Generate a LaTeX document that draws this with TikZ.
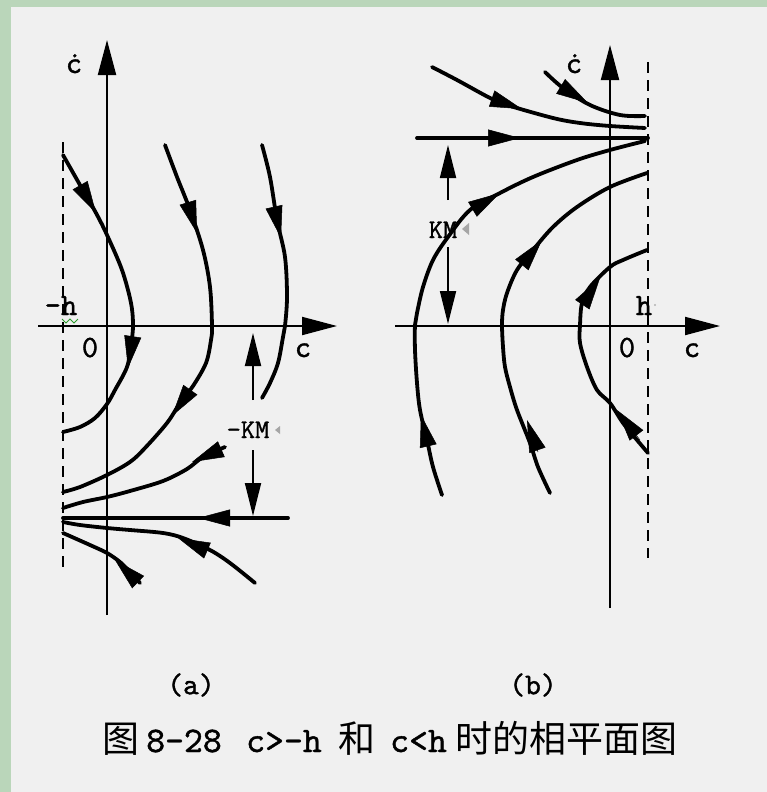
\documentclass[tikz,border=0pt]{standalone}
\usepackage{fontspec}
\newfontfamily\cjk{Noto Sans CJK SC}
\newfontfamily\mono{lmmono10-regular.otf}[FakeBold=1.2]
\usetikzlibrary{arrows.meta}
\definecolor{bggreen}{HTML}{BAD6BA}
\definecolor{panelgray}{HTML}{F0F0F0}
\definecolor{squig}{HTML}{2A9A2A}
\begin{document}
\begin{tikzpicture}[x=1pt,y=-1pt,
  curve/.style={line width=3.8pt, line join=round, line cap=round},
  axisline/.style={line width=2pt, -{Triangle[length=35pt,width=18pt]}},
  ah/.style={line width=0.5pt, -{Triangle[length=32pt,width=17pt]}},
  dimarrow/.style={line width=1.8pt, -{Triangle[length=33pt,width=16pt]}},
  dashline/.style={line width=2pt, dash pattern=on 11pt off 7pt},
  lbl/.style={font=\mono\fontsize{31}{31}\selectfont, inner sep=0pt},
  kmlbl/.style={font=\mono\fontsize{27}{27}\selectfont, inner sep=0pt},
  caplbl/.style={font=\mono\fontsize{30}{30}\selectfont, inner sep=0pt},
  capl/.style={font=\mono\fontsize{36}{36}\selectfont, inner sep=0pt, anchor=base west},
  capc/.style={font=\cjk\fontsize{37}{37}\selectfont, inner sep=0pt, anchor=base west}]
\useasboundingbox (0,0) rectangle (767,792);
\fill[bggreen] (0,0) rectangle (767,792);
\fill[panelgray] (11,7) rectangle (767,792);

% ---------------- panel (a) ----------------
\draw[dashline] (63,142) -- (63,568);
\draw[axisline] (107,615) -- (107,40);
\draw[axisline] (38,326) -- (337,326);

\draw[curve] plot[smooth, tension=0.55] coordinates {(63,155) (80,185) (96,213) (107,235) (122,270) (131,303) (133,326) (131,345) (127,367) (115,390) (107,404) (95,418) (80,427) (63,432)};
\draw[curve] plot[smooth, tension=0.55] coordinates {(165,145) (177,177) (190,210) (203,250) (210,287) (212,326) (211,340) (206,363) (193,386) (180,403) (167,423) (145,448) (130,462) (107,475) (80,487) (63,492)};
\draw[curve] plot[smooth, tension=0.55] coordinates {(262,145) (270,177) (277,220) (285,257) (287,297) (285,326) (283,337) (278,363) (270,383) (262,398)};
\draw[curve] plot[smooth, tension=0.55] coordinates {(225,447) (203,457) (187,469) (163,481) (130,491) (107,497) (83,502) (63,508)};
\draw[curve] (288,518) -- (63,518);
\draw[curve] plot[smooth, tension=0.55] coordinates {(255,583) (230,563) (210,550) (183,538) (163,533) (130,530) (107,528) (80,525) (63,522)};
\draw[curve] plot[smooth, tension=0.55] coordinates {(140,583) (130,572) (120,562) (107,553) (90,545) (63,533)};

\draw[ah] (80,185) -- (96,213);
\draw[ah] (133,335) -- (128,368);
\draw[ah] (188,203) -- (197,233);
\draw[ah] (193,386) -- (172,416);
\draw[ah] (274,207) -- (281,238);
\draw[ah] (224,448) -- (192,462);
\draw[ah] (232,518) -- (198,518);
\draw[ah] (213,553) -- (178,538);
\draw[ah] (138,582) -- (115,560);

\draw[dimarrow] (253,400) -- (253,333);
\draw[dimarrow] (253,450) -- (253,516);

\node[lbl, anchor=base] (adot) at (74,73) {ċ};
\node[lbl, anchor=base] (amh) at (61,315) {-h};
\node[lbl, anchor=base] (a0) at (90,357) {0};
\node[lbl, anchor=base] (ac) at (303,357) {c};
\node[kmlbl, anchor=base] (akm) at (248,438) {-KM};
\fill[gray!70] (280,426) -- (280,434) -- (275,430) -- cycle;
\draw[squig, line width=1pt] (62,319) -- (66,323) -- (70,319) -- (74,323) -- (78,319);

% ---------------- panel (b) ----------------
\draw[dashline] (648,62) -- (648,558);
\draw[axisline] (610,608) -- (610,45);
\draw[axisline] (395,326) -- (720,326);

\draw[curve] plot[smooth, tension=0.55] coordinates {(432,67) (457,80) (490,98) (507,105) (553,118) (580,123) (610,126) (645,128)};
\draw[curve] plot[smooth, tension=0.55] coordinates {(545,72) (563,88) (590,105) (620,115) (645,116)};
\draw[curve] (417,138) -- (648,138);
\draw[curve] plot[smooth, tension=0.55] coordinates {(442,495) (433,467) (427,440) (420,410) (417,383) (415,350) (415,325) (417,313) (423,287) (433,260) (448,237) (470,210) (500,193) (533,177) (577,160) (610,150) (645,141)};
\draw[curve] plot[smooth, tension=0.55] coordinates {(550,493) (538,467) (530,443) (517,410) (510,387) (505,367) (503,347) (502,325) (503,310) (507,293) (517,270) (533,250) (553,227) (577,207) (610,187) (647,173)};
\draw[curve] plot[smooth, tension=0.55] coordinates {(648,453) (637,440) (623,423) (610,403) (597,390) (587,367) (580,343) (580,325) (582,303) (590,287) (610,267) (623,260) (647,250)};

\draw[ah] (478,138) -- (520,138);
\draw[ah] (490,98) -- (522,109);
\draw[ah] (560,86) -- (588,103);
\draw[ah] (468,212) -- (500,193);
\draw[ah] (428,445) -- (421,415);
\draw[ah] (516,272) -- (542,240);
\draw[ah] (538,452) -- (527,420);
\draw[ah] (582,305) -- (600,278);
\draw[ah] (640,440) -- (617,410);

\draw[dimarrow] (448,200) -- (448,145);
\draw[dimarrow] (448,247) -- (448,324);

\node[lbl, anchor=base] (bdot) at (574,73) {ċ};
\node[lbl, anchor=base] (bh) at (644,315) {h};
\node[lbl, anchor=base] (b0) at (627,357) {0};
\node[lbl, anchor=base] (bc) at (692,357) {c};
\node[kmlbl, anchor=base] (bkm) at (443,238) {KM};
\fill[gray!70] (469,223) -- (469,235) -- (462,229) -- cycle;
\fill[gray!60] (655,305) circle (1.2pt);

% ---------------- captions ----------------
\node[caplbl] (capa) at (191,685) {(a)};
\node[caplbl] (capb) at (533,685) {(b)};
\node[capc] (t1) at (102,752) {图};
\node[capl] (t2) at (146,752) {8-28};
\node[capl] (t3) at (246,752) {c>-h};
\node[capc] (t4) at (338,752) {和};
\node[capl] (t5) at (390,752) {c<h};
\node[capc] (t6) at (455,752) {时的相平面图};
\end{tikzpicture}
\end{document}
